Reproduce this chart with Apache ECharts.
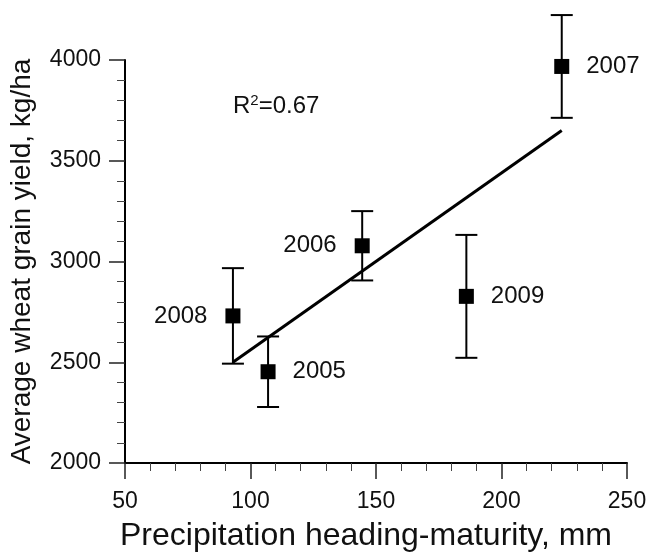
<!DOCTYPE html>
<html>
<head>
<meta charset="utf-8">
<script src="https://cdn.jsdelivr.net/npm/echarts@6/dist/echarts.min.js"></script>
<style>html,body{margin:0;padding:0;background:#fff;}#c{width:649px;height:560px;}</style>
</head>
<body>
<div id="c"></div>
<script>
const years = ['2005', '2006', '2007', '2008', '2009'];
const precip = [107, 144.5, 224, 93, 186];
const yieldVals = [2453, 3078, 3968, 2730, 2827];
const yieldErr = [175, 172, 255, 237, 305];
const labelSide = ['right', 'left', 'right', 'left', 'right'];
const regX = [93, 224];
const regY = [2500, 3650];
const xTicks = [50, 100, 150, 200, 250];
const yTicks = [2000, 2500, 3000, 3500, 4000];
const r2Text = '{n|R}{sup|2}{n|=0.67}';

const FONT = '"Liberation Sans", Arial, Helvetica, sans-serif';
const TXT = '#111';
const chart = echarts.init(document.getElementById('c'), null, {renderer: 'canvas'});

const scatterData = precip.map((x, i) => ({
  value: [x, yieldVals[i]],
  label: {position: labelSide[i], distance: labelSide[i] === 'right' ? 17 : 18}
}));
const errData = precip.map((x, i) => [x, yieldVals[i] - yieldErr[i], yieldVals[i] + yieldErr[i]]);

const option = {
  backgroundColor: '#fff',
  animation: false,
  textStyle: {fontFamily: FONT},
  title: {
    text: r2Text,
    left: 228,
    top: 88,
    textStyle: {
      fontFamily: FONT, fontSize: 24, fontWeight: 'normal', color: TXT,
      rich: {
        n: {fontSize: 24, fontFamily: FONT, color: TXT},
        sup: {fontSize: 15, fontFamily: FONT, color: TXT, padding: [0, 0, 11, 0]}
      }
    }
  },
  grid: {left: 125, right: 22, top: 60, bottom: 97, containLabel: false, outerBoundsMode: 'none'},
  xAxis: {
    type: 'value', min: xTicks[0], max: xTicks[xTicks.length - 1], interval: 50,
    name: 'Precipitation heading-maturity, mm', nameLocation: 'middle', nameGap: 57,
    nameTextStyle: {fontFamily: FONT, fontSize: 32, color: TXT, padding: [0, 20, 0, 0]},
    axisLine: {show: true, onZero: false, lineStyle: {color: '#000', width: 2}},
    axisTick: {show: true, inside: false, length: 16, lineStyle: {color: '#222', width: 1.5}},
    minorTick: {show: true, splitNumber: 5, length: 8, lineStyle: {color: '#444', width: 1}},
    axisLabel: {fontFamily: FONT, fontSize: 23, color: TXT, margin: 27, formatter: v => String(v)},
    splitLine: {show: false}
  },
  yAxis: {
    type: 'value', min: yTicks[0], max: yTicks[yTicks.length - 1], interval: 500,
    name: 'Average wheat grain yield, kg/ha', nameLocation: 'middle', nameGap: 89,
    nameTextStyle: {fontFamily: FONT, fontSize: 28, color: TXT},
    axisLine: {show: true, onZero: false, lineStyle: {color: '#000', width: 2}},
    axisTick: {show: true, inside: false, length: 16, lineStyle: {color: '#222', width: 1.5}},
    minorTick: {show: true, splitNumber: 5, length: 8, lineStyle: {color: '#444', width: 1}},
    axisLabel: {fontFamily: FONT, fontSize: 23, color: TXT, margin: 24, formatter: v => String(v)},
    splitLine: {show: false}
  },
  series: [
    {
      type: 'line',
      data: regX.map((x, i) => [x, regY[i]]),
      symbol: 'none',
      lineStyle: {color: '#000', width: 3},
      z: 2
    },
    {
      type: 'custom',
      data: errData,
      clip: false,
      z: 3,
      renderItem: function (params, api) {
        const x = api.value(0);
        const lo = api.coord([x, api.value(1)]);
        const hi = api.coord([x, api.value(2)]);
        const hw = 11;
        const style = {stroke: '#000', lineWidth: 2};
        return {
          type: 'group',
          children: [
            {type: 'line', shape: {x1: lo[0], y1: lo[1], x2: hi[0], y2: hi[1]}, style: style},
            {type: 'line', shape: {x1: lo[0] - hw, y1: lo[1], x2: lo[0] + hw, y2: lo[1]}, style: style},
            {type: 'line', shape: {x1: hi[0] - hw, y1: hi[1], x2: hi[0] + hw, y2: hi[1]}, style: style}
          ]
        };
      }
    },
    {
      type: 'scatter',
      data: scatterData,
      symbol: 'rect',
      symbolSize: 15,
      itemStyle: {color: '#000', opacity: 1},
      z: 4,
      label: {
        show: true,
        fontFamily: FONT, fontSize: 24, color: TXT,
        formatter: function (p) { return years[p.dataIndex]; }
      }
    }
  ]
};
chart.setOption(option);
</script>
</body>
</html>
